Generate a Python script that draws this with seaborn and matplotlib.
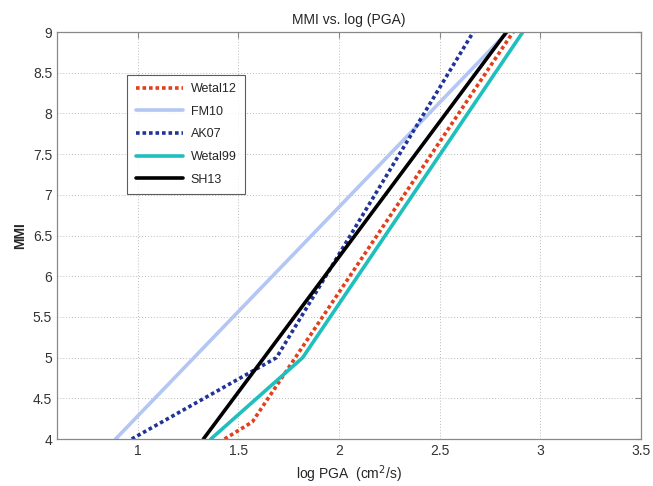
import matplotlib
matplotlib.use("Agg")
import matplotlib.pyplot as plt
import seaborn as sns

# vertices (log PGA, MMI)
wetal12_x = [1.432, 1.57, 2.865]
wetal12_y = [4.0, 4.21, 9.0]
fm10_x = [0.891, 2.837]
fm10_y = [4.0, 9.0]
ak07_x = [0.971, 1.69, 2.667]
ak07_y = [4.0, 5.0, 9.0]
wetal99_x = [1.364, 1.82, 2.913]
wetal99_y = [4.0, 5.0, 9.0]
sh13_x = [1.327, 2.832]
sh13_y = [4.0, 9.0]

x_ticks = [1, 1.5, 2, 2.5, 3, 3.5]
y_ticks = [4, 4.5, 5, 5.5, 6, 6.5, 7, 7.5, 8, 8.5, 9]

sns.set_style("white")
plt.rcParams["font.family"] = ["Liberation Sans", "DejaVu Sans"]

SERIES = [
    ("Wetal12", wetal12_x, wetal12_y, "#e2401c", (0, (1, 0.8))),
    ("FM10", fm10_x, fm10_y, "#b3c6f4", "-"),
    ("AK07", ak07_x, ak07_y, "#1f3399", (0, (1, 0.8))),
    ("Wetal99", wetal99_x, wetal99_y, "#1fbfbd", "-"),
    ("SH13", sh13_x, sh13_y, "#000000", "-"),
]

fig = plt.figure(figsize=(6.53, 4.86), dpi=100)
ax = fig.add_axes([0.0873, 0.0967, 0.8943, 0.8373])

for name, xs, ys, color, ls in SERIES:
    sns.lineplot(x=xs, y=ys, ax=ax, sort=False, color=color, linestyle=ls,
                 linewidth=2.6, label=name)

ax.set_xlim(0.6, 3.5)
ax.set_ylim(4, 9)
ax.set_xticks(x_ticks)
ax.set_xticklabels([f"{t:g}" for t in x_ticks])
ax.set_yticks(y_ticks)
ax.set_yticklabels([f"{t:g}" for t in y_ticks])
ax.tick_params(direction="in", length=4, color="#888888", labelsize=10,
               labelcolor="#333333", top=True, right=True)
ax.grid(True, linestyle=(0, (1, 2)), color="#bbbbbb", linewidth=0.7)
for sp in ax.spines.values():
    sp.set_color("#888888")
    sp.set_linewidth(0.9)

ax.set_title("MMI vs. log (PGA)", fontsize=10)
ax.set_xlabel("log PGA  (cm$^2$/s)", fontsize=10)
ax.set_ylabel("MMI", fontsize=10, fontweight="bold")

leg = ax.legend(loc="upper left", bbox_to_anchor=(0.11, 0.91), fontsize=9,
                frameon=True, fancybox=False, handlelength=3.8,
                labelspacing=0.85, borderpad=0.65, handletextpad=0.6)
leg.get_frame().set_edgecolor("#333333")
leg.get_frame().set_linewidth(0.8)

fig.savefig("out.png", dpi=100)
